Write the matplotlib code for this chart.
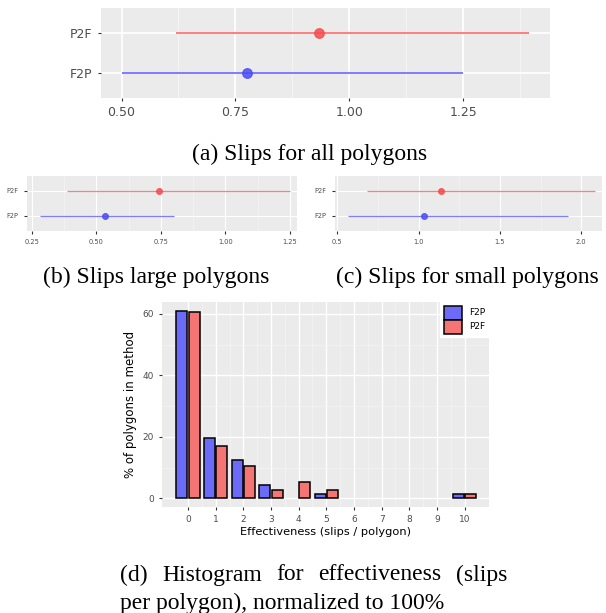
import matplotlib
matplotlib.use('Agg')
import matplotlib.pyplot as plt
import numpy as np

# data
methods = ['F2P', 'P2F']
# (low, mean, high) per method, per panel
all_lo = [0.50, 0.619]
all_mean = [0.776, 0.933]
all_hi = [1.25, 1.395]

large_lo = [0.281, 0.387]
large_mean = [0.535, 0.741]
large_hi = [0.801, 1.249]

small_lo = [0.563, 0.681]
small_mean = [1.034, 1.139]
small_hi = [1.919, 2.083]

slips = [0, 1, 2, 3, 4, 5, 10]
f2p_pct = [61.1, 19.5, 12.5, 4.2, 0.0, 1.4, 1.4]
p2f_pct = [60.5, 17.0, 10.6, 2.6, 5.3, 2.6, 1.3]

BG = '#EBEBEB'
TXT = '#4D4D4D'
BLUE_L = '#7070FF'
RED_L = '#FF7070'
BLUE_P = '#4B4BF5'
RED_P = '#F54B4B'

W, H = 606, 613
fig = plt.figure(figsize=(6.06, 6.13), dpi=100)


def ax_px(x0, x1, y0, y1):
    return fig.add_axes([x0 / W, 1 - y1 / H, (x1 - x0) / W, (y1 - y0) / H])


def gg_style(ax, fs):
    ax.set_facecolor(BG)
    for s in ax.spines.values():
        s.set_visible(False)
    ax.tick_params(colors='#333333', labelcolor=TXT, labelsize=fs, length=2.5, width=0.8)
    ax.set_axisbelow(True)


def ci_panel(ax, lo, mean, hi, xlim, major, minor, fs, lw, ms):
    gg_style(ax, fs)
    ax.set_xlim(*xlim)
    ax.set_ylim(0.4, 2.6)
    ax.set_xticks(major)
    ax.set_xticks(minor, minor=True)
    ax.tick_params(which='minor', length=0)
    ax.set_yticks([1, 2])
    ax.set_yticklabels(methods)
    ax.grid(which='major', color='white', lw=lw * 0.9)
    ax.grid(which='minor', color='#F5F5F5', lw=lw * 0.5)
    cols = [(BLUE_L, BLUE_P), (RED_L, RED_P)]
    for i in range(2):
        ax.hlines(i + 1, lo[i], hi[i], color=cols[i][0], lw=lw, alpha=0.9)
        ax.plot(mean[i], i + 1, 'o', color=cols[i][1], ms=ms, alpha=0.85,
                mec=cols[i][1], mew=0.8)


# (a)
ax_a = ax_px(101, 550, 8, 98)
ci_panel(ax_a, all_lo, all_mean, all_hi, (0.455, 1.44),
         [0.5, 0.75, 1.0, 1.25], [0.625, 0.875, 1.125, 1.375], 9, 1.4, 7)

# (b)
ax_b = ax_px(27, 297, 176, 231)
ci_panel(ax_b, large_lo, large_mean, large_hi, (0.231, 1.277),
         [0.25, 0.5, 0.75, 1.0, 1.25], [0.375, 0.625, 0.875, 1.125], 4.8, 0.9, 4.2)
ax_b.set_xticklabels(['0.25', '0.50', '0.75', '1.00', '1.25'])

# (c)
ax_c = ax_px(335, 602, 176, 231)
ci_panel(ax_c, small_lo, small_mean, small_hi, (0.486, 2.128),
         [0.5, 1.0, 1.5, 2.0], [0.75, 1.25, 1.75], 4.8, 0.9, 4.2)

# (d)
ax_d = ax_px(162, 489, 302, 507)
gg_style(ax_d, 6.5)
x = np.array(slips)
f2p = np.array(f2p_pct)
p2f = np.array(p2f_pct)
bw = 0.4
m1 = f2p > 0
m2 = p2f > 0
ax_d.bar(x[m1] - 0.225, f2p[m1], width=bw, color='#6B6BF8', edgecolor='black', lw=1.1,
         label='F2P', zorder=3)
ax_d.bar(x[m2] + 0.225, p2f[m2], width=bw, color='#F57575', edgecolor='black', lw=1.1,
         label='P2F', zorder=3)
ax_d.set_xlim(-0.94, 10.88)
ax_d.set_ylim(-2.8, 63.9)
ax_d.set_xticks(range(11))
ax_d.set_xticks(np.arange(0.5, 10.5, 1), minor=True)
ax_d.set_yticks([0, 20, 40, 60])
ax_d.set_yticks([10, 30, 50], minor=True)
ax_d.tick_params(which='minor', length=0)
ax_d.grid(which='major', color='white', lw=1.0)
ax_d.grid(which='minor', color='#F5F5F5', lw=0.5)
ax_d.set_xlabel('Effectiveness (slips / polygon)', fontsize=8.2, color='black', labelpad=2)
ax_d.set_ylabel('% of polygons in method', fontsize=8.5, color='black', labelpad=4)
leg = ax_d.legend(loc='upper right', fontsize=6.5, frameon=True, fancybox=False,
                  borderaxespad=0, handlelength=2.0, handleheight=2.0,
                  labelspacing=0.0, handletextpad=0.8, borderpad=0.4)
leg.get_frame().set_facecolor('white')
leg.get_frame().set_edgecolor('white')
leg.get_frame().set_alpha(1)

# captions
cap = dict(family='Liberation Serif', fontsize=17, color='black')
fig.text(310 / W, 1 - 154 / H, '(a) Slips for all polygons', ha='center', va='center', **cap)
fig.text(156 / W, 1 - 277 / H, '(b) Slips large polygons', ha='center', va='center', **cap)
fig.text(467 / W, 1 - 277 / H, '(c) Slips for small polygons', ha='center', va='center', **cap)

# justified first line of caption (d)
words = '(d) Histogram for effectiveness (slips'.split()
x_left, x_right = 120, 507
fig.canvas.draw()
r = fig.canvas.get_renderer()
txts = [fig.text(0, 1 - 575 / H, w, ha='left', va='center', **cap) for w in words]
widths = [t.get_window_extent(renderer=r).width for t in txts]
gap = (x_right - x_left - sum(widths)) / (len(words) - 1)
pos = x_left
for t, w in zip(txts, widths):
    t.set_x(pos / W)
    pos += w + gap
fig.text(x_left / W, 1 - 603 / H, 'per polygon), normalized to 100%',
         ha='left', va='center', **cap)

fig.savefig('out.png', dpi=100)
